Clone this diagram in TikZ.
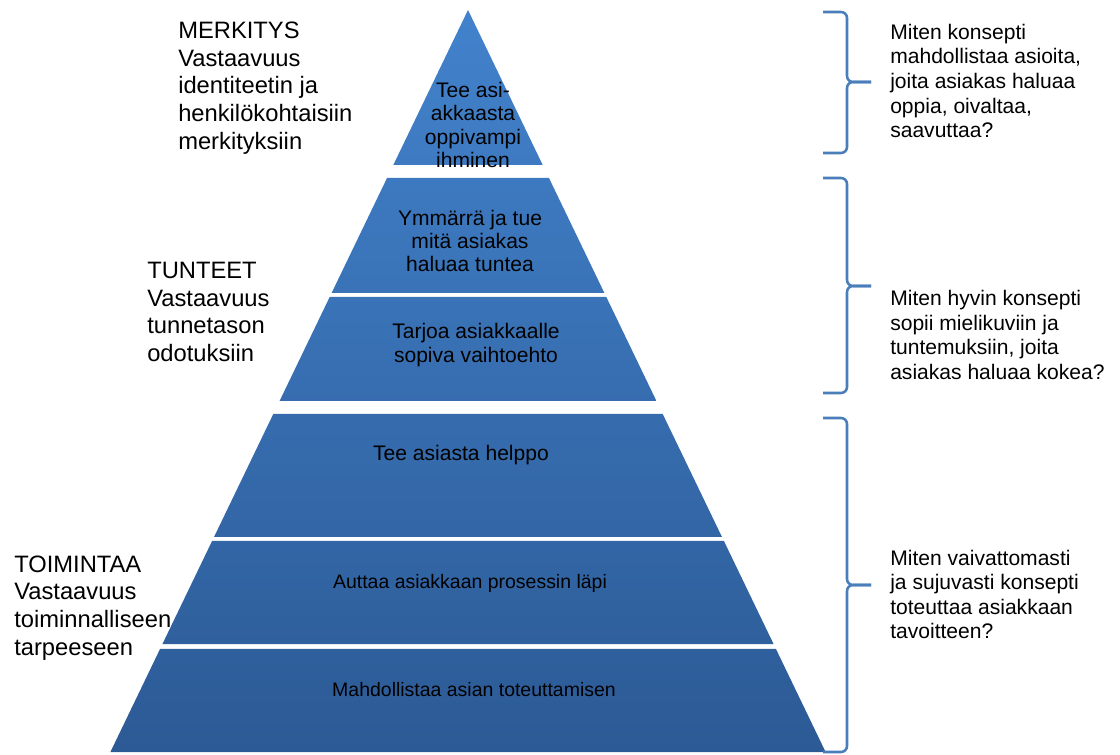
\documentclass[tikz,border=0pt]{standalone}
\usepackage{fontspec}
\setmainfont{Liberation Sans}
\usepackage{xcolor}
\usetikzlibrary{calc,positioning}

\definecolor{pyrtop}{HTML}{4282CC}
\definecolor{pyrbot}{HTML}{2C5A95}
\definecolor{braceblue}{HTML}{4A7EBB}

\begin{document}
\begin{tikzpicture}[
    x=0.75pt, y=-0.75pt,
    tier/.style={align=center, inner sep=0pt, font=\fontsize{15.8}{17.6}\selectfont},
    small tier/.style={tier, font=\fontsize{14.6}{17.6}\selectfont},
    side/.style={align=left, anchor=west, inner sep=0pt, font=\fontsize{17.8}{20.8}\selectfont},
    question/.style={align=left, anchor=west, inner sep=0pt, font=\fontsize{15.8}{18.4}\selectfont},
    bracket/.style={draw=braceblue, line width=1.9pt, rounded corners=4.5pt}
]
\useasboundingbox (0,0) rectangle (1120,755);

\coordinate (apex) at (468,10);
\coordinate (bl) at (110.4,752);
\coordinate (br) at (825.6,752);

\foreach \t/\b in {10/165, 178/293, 297/401, 414/537, 541/644, 649/752} {
  \pgfmathsetmacro\ft{(\t-10)/742}
  \pgfmathsetmacro\fb{(\b-10)/742}
  \pgfmathtruncatemacro\ct{100*\ft}
  \pgfmathtruncatemacro\cb{100*\fb}
  \shade[top color=pyrbot!\ct!pyrtop, bottom color=pyrbot!\cb!pyrtop]
    ($(apex)!\ft!(bl)$) -- ($(apex)!\ft!(br)$) -- ($(apex)!\fb!(br)$) -- ($(apex)!\fb!(bl)$) -- cycle;
}

\node[tier] (l1) at (473,125) {Tee asi-\\akkaasta\\oppivampi\\ihminen};
\node[tier] (l2) at (470,241) {Ymmärrä ja tue\\mitä asiakas\\haluaa tuntea};
\node[tier] (l3) at (476,345) {Tarjoa asiakkaalle\\sopiva vaihtoehto};
\node[tier] (l4) at (461,455) {Tee asiasta helppo};
\node[small tier] (l5) at (470,583) {Auttaa asiakkaan prosessin läpi};
\node[small tier] (l6) at (474,690) {Mahdollistaa asian toteuttamisen};

\node[side] (merkitys) at (178,88) {MERKITYS\\Vastaavuus\\identiteetin ja\\henkilökohtaisiin\\merkityksiin};
\node[side] (tunteet) at (147,312) {TUNTEET\\Vastaavuus\\tunnetason\\odotuksiin};
\node[side] (toiminta) at (14,608) {TOIMINTAA\\Vastaavuus\\toiminnalliseen\\tarpeeseen};

\foreach \t/\m/\b [count=\i] in {12/82/153, 178/286/393, 418/585/752} {
  \coordinate (tip\i) at (871,\m);
  \draw[bracket] (823,\t) -- (847,\t) -- (847,\m) -- (tip\i);
  \draw[bracket] (823,\b) -- (847,\b) -- (847,\m) -- (tip\i);
}

\node[question] (q1) at (890,81) {Miten konsepti\\mahdollistaa asioita,\\joita asiakas haluaa\\oppia, oivaltaa,\\saavuttaa?};
\node[question] (q2) at (890,335) {Miten hyvin konsepti\\sopii mielikuviin ja\\tuntemuksiin, joita\\asiakas haluaa kokea?};
\node[question] (q3) at (890,594.5) {Miten vaivattomasti\\ja sujuvasti konsepti\\toteuttaa asiakkaan\\tavoitteen?};
\end{tikzpicture}
\end{document}
